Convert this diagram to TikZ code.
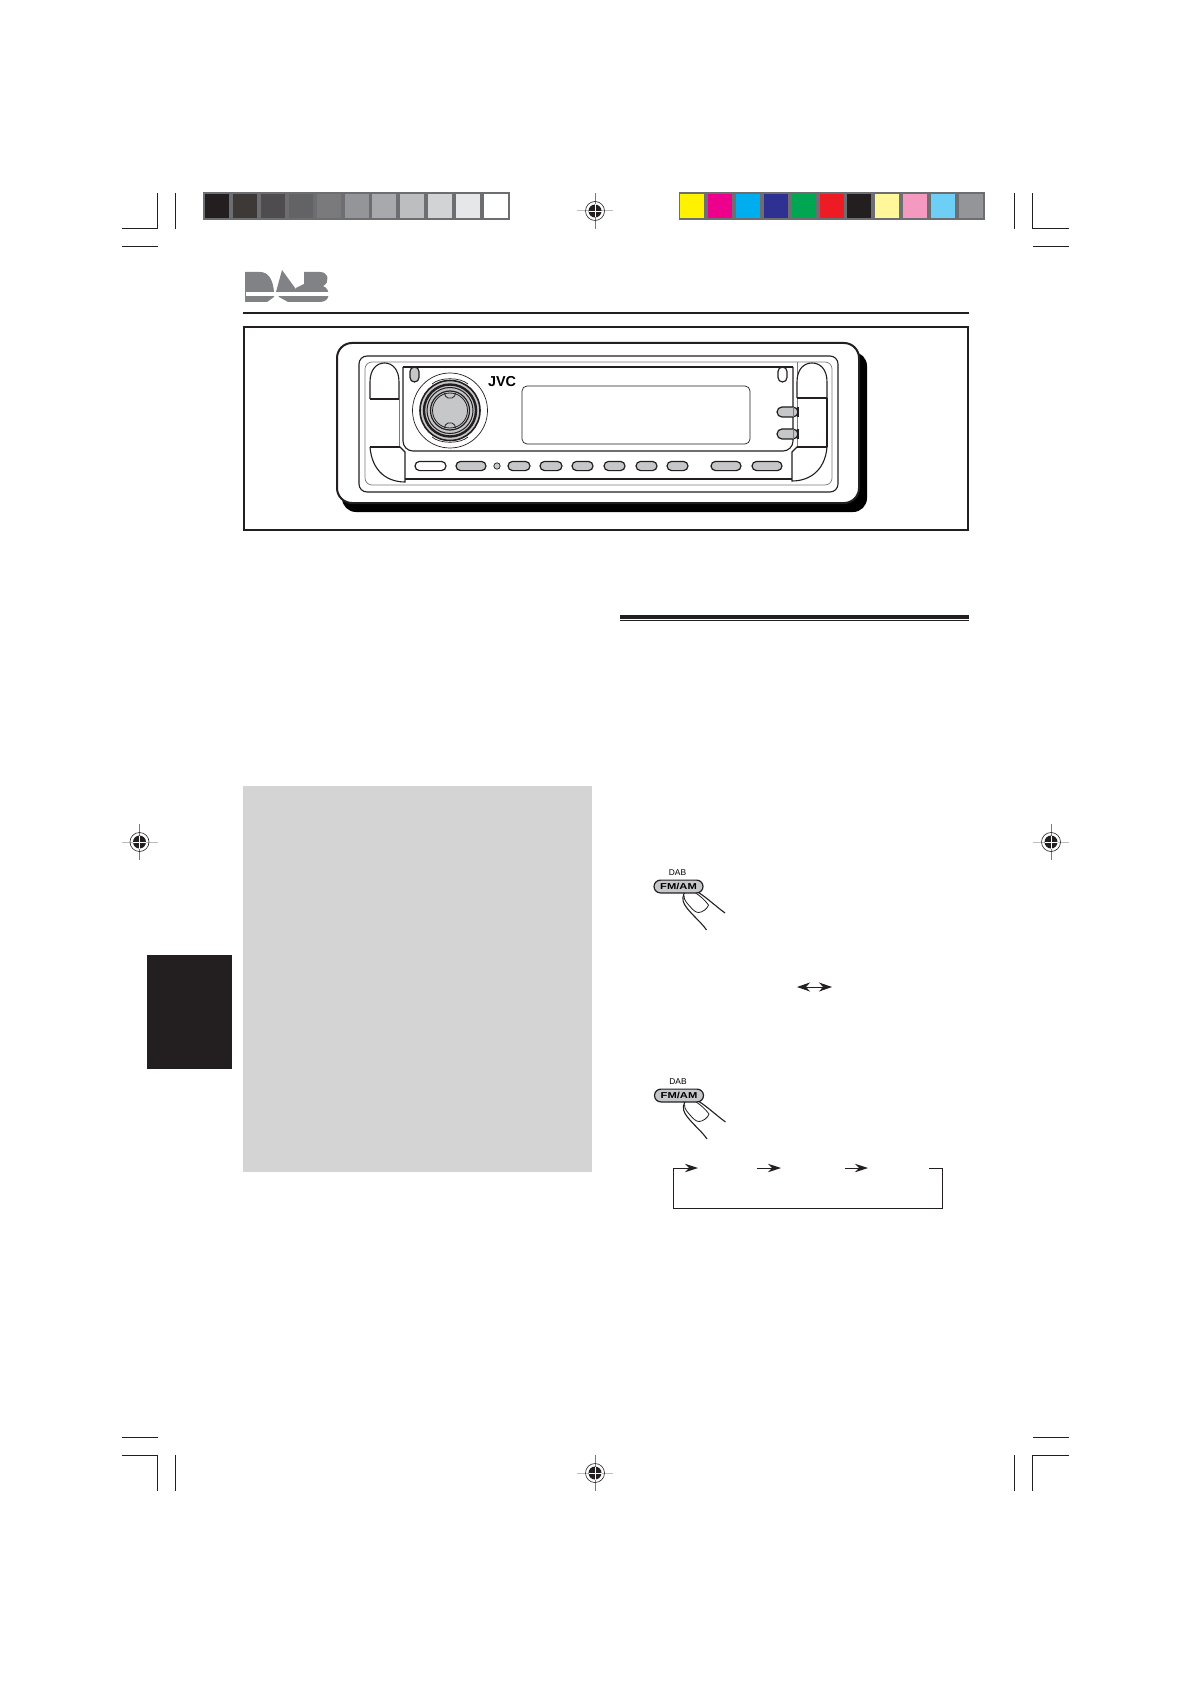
\documentclass[tikz,border=0pt]{standalone}
\usepackage{fontspec}
\setmainfont{Liberation Sans}
\usepackage{xcolor}
\usetikzlibrary{arrows.meta,shapes.misc,calc}
\definecolor{inkk}{HTML}{231F20}
\definecolor{stripk}{HTML}{6D6E71}
\definecolor{logok}{HTML}{808285}
\definecolor{panelk}{HTML}{D4D4D4}
\definecolor{keyk}{HTML}{C6C7C8}
\definecolor{gA}{HTML}{231F20}
\definecolor{gB}{HTML}{3D3937}
\definecolor{gC}{HTML}{4F4C4D}
\definecolor{gD}{HTML}{636264}
\definecolor{gE}{HTML}{7A7A7C}
\definecolor{gF}{HTML}{939598}
\definecolor{gG}{HTML}{A7A9AC}
\definecolor{gH}{HTML}{BCBEC0}
\definecolor{gI}{HTML}{D1D3D4}
\definecolor{gJ}{HTML}{E6E7E8}
\definecolor{gK}{HTML}{FFFFFF}
\definecolor{cA}{HTML}{FFF200}
\definecolor{cB}{HTML}{EC008C}
\definecolor{cC}{HTML}{00AEEF}
\definecolor{cD}{HTML}{2E3192}
\definecolor{cE}{HTML}{00A651}
\definecolor{cF}{HTML}{ED1C24}
\definecolor{cG}{HTML}{231F20}
\definecolor{cH}{HTML}{FFF799}
\definecolor{cI}{HTML}{F49AC1}
\definecolor{cJ}{HTML}{6DCFF6}
\definecolor{cK}{HTML}{939598}
\tikzset{
  crop/.style={draw=inkk, line width=0.5pt},
  thinline/.style={draw=inkk, line width=0.35pt},
  bodyline/.style={draw=inkk, line width=0.55pt},
  flowline/.style={draw=inkk, line width=0.5pt},
  flowtip/.style={-{Stealth[length=6.5pt,width=4.2pt,inset=2pt]}},
  key/.style={rounded rectangle, draw=inkk, line width=0.6pt, fill=keyk,
              inner sep=0pt, minimum height=4.6pt},
  regmark/.pic={
    \draw[gH, line width=0.5pt] (-18,0) -- (18,0);
    \draw[gE, line width=0.5pt] (0,-18) -- (0,18);
    \draw[inkk, line width=0.3pt] (0,0) circle (9.5);
    \fill[inkk] (0,0) circle (6.5);
    \draw[white, line width=0.3pt] (-6.5,0) -- (6.5,0) (0,-6.5) -- (0,6.5);
  },
  fmkey/.pic={
    % finger
    \draw[fill=white, draw=inkk, line width=0.55pt] (46.5,26.5) .. controls (35,18) and (26,9) .. (16.5,4)
      .. controls (11,3) and (7,4) .. (5.5,7) .. controls (3,13) and (5,17) .. (8,21)
      .. controls (15,30) and (23,36) .. (28,43.5);
    \draw[inkk, line width=0.4pt] (5.5,9) .. controls (5,14) and (10,18) .. (11.5,20)
      .. controls (14,23) and (17,26) .. (20,26) .. controls (24,26) and (29,22) .. (30,18.5)
      .. controls (26,13) and (21,9) .. (16.5,6);
    \node[font=\fontsize{4.2}{4}\selectfont] (dab) at (-1,-13.5) {DAB};
    \node[key, minimum width=24.5pt, minimum height=6.4pt,
          font=\fontsize{4.3}{4}\selectfont\bfseries] (fm) at (0,0) {\scalebox{1.3}[1]{FM/AM}};
  },
}
\begin{document}
\begin{tikzpicture}[x=0.5pt, y=-0.5pt]
\useasboundingbox (0,0) rectangle (1190,1684);
% colour bars
\fill[stripk] (203,192) rectangle (510,220);
\fill[stripk] (679,192) rectangle (985,220);
\foreach \col [count=\i from 0] in {gA,gB,gC,gD,gE,gF,gG,gH,gI,gJ,gK}
  \fill[\col] ({205+27.9*\i},194) rectangle +(24,24);
\foreach \col [count=\i from 0] in {cA,cB,cC,cD,cE,cF,cG,cH,cI,cJ,cK}
  \fill[\col] ({680+27.9*\i},194) rectangle +(24,24);
%
% crop marks
\draw[crop] (122,229) -- (157.5,229) -- (157.5,193);
\draw[crop] (175.5,193) -- (175.5,229);
\draw[crop] (122,247) -- (158,247);
\draw[crop] (1069,229) -- (1032.5,229) -- (1032.5,193);
\draw[crop] (1014.5,193) -- (1014.5,229);
\draw[crop] (1033,247) -- (1069,247);
\draw[crop] (122,1437) -- (158,1437);
\draw[crop] (122,1455) -- (157.5,1455) -- (157.5,1491);
\draw[crop] (175.5,1455) -- (175.5,1491);
\draw[crop] (1033,1437) -- (1069,1437);
\draw[crop] (1069,1455) -- (1032.5,1455) -- (1032.5,1491);
\draw[crop] (1014.5,1455) -- (1014.5,1491);
%
\pic at (595,211) {regmark};
\pic at (139.5,842) {regmark};
\pic at (1051,842) {regmark};
\pic at (595,1473) {regmark};
%
% logo
\fill[logok] (245,272) -- (260,272) .. controls (268,272) and (273,279) .. (274,292)
  -- (274,297) -- (267,302) -- (245,302) -- cycle;
\fill[logok] (282,270) -- (298,292) -- (305,302) -- (288,302) -- (279,297) -- (276,292) -- cycle;
\fill[logok] (304,272) -- (320,272) .. controls (329,272) and (330,283) .. (323,286)
  .. controls (331,289) and (331,302) .. (320,302) -- (296,302) -- (296,288) -- (304,284) -- cycle;
\fill[white] (245.5,292) rectangle (329,296.5);
\draw[inkk, line width=1pt] (243,312.7) -- (969,312.7);
%
% front panel
\draw[inkk, line width=1pt] (244,327) rectangle (968,530);
\fill[black, rounded corners=7pt] (342,352) rectangle (867,512);
\draw[draw=inkk, line width=1pt, fill=white, rounded corners=7.5pt] (337,343) rectangle (859,503);
\draw[bodyline, rounded corners=4pt] (359,356) rectangle (838,492);
\draw[gE, line width=0.35pt, rounded corners=3.5pt] (365,362) rectangle (832,485);
\draw[bodyline, rounded corners=5pt] (403,367) -- (403,451) -- (793,451) -- (793,367);
\draw[bodyline, line width=0.7pt] (403,367) -- (793,367);
\draw[gE, line width=0.35pt] (797,362) -- (797,447);
\draw[bodyline] (405,479) -- (792,479);
\draw[gE, line width=0.35pt] (399,399) -- (399,447);
\draw[bodyline] (827,398) -- (827,447);
%
% side tabs
\draw[bodyline, fill=white] (370,399) -- (370,382) .. controls (370,369) and (377,363) .. (384.5,363)
  .. controls (392,363) and (399,369) .. (399,382) -- (399,399);
\draw[inkk, line width=1pt] (370,399) -- (399,399);
\draw[bodyline, fill=white] (797,398) -- (797,382) .. controls (797,369) and (804,363) .. (812,363)
  .. controls (820,363) and (827,369) .. (827,382) -- (827,398);
\draw[inkk, line width=1pt] (797,398) -- (827,398);
\draw[bodyline, fill=white] (370,447) -- (400,447) -- (405,452) -- (405,482) .. controls (388,482) and (372,472) .. (370,447);
\draw[inkk, line width=1pt] (370,447) -- (400,447);
\draw[bodyline, fill=white] (827,447) -- (797,447) -- (792,452) -- (792,481) .. controls (809,481) and (825,471) .. (827,447);
\draw[inkk, line width=1pt] (797,447) -- (827,447);
%
% lamps
\node[key, rotate=90, minimum width=7.5pt, minimum height=4.5pt] (lampl) at (414.5,374.5) {};
\node[key, rotate=90, fill=white, minimum width=7.5pt, minimum height=4.5pt] (lampr) at (782.5,374.5) {};
%
% knob
\draw[thinline] (450,410.5) circle (37.5);
\draw[thinline, fill=white] (432,384) .. controls (440,377) and (460,377) .. (468,384);
\draw[thinline, fill=white] (432,437) .. controls (440,444) and (460,444) .. (468,437);
\draw[inkk, line width=0.8pt, fill=keyk] (450,410.5) circle (30);
\draw[inkk, line width=1.2pt] (450,410.5) circle (26);
\draw[inkk, line width=0.5pt] (450,410.5) circle (23);
\draw[inkk, line width=0.6pt, fill=keyk] (450,410.5) circle (19.5);
\draw[inkk, line width=0.4pt] (450,410.5) circle (17.5);
\draw[inkk, line width=0.4pt, rounded corners=1pt] (444.5,393) -- (446,398) -- (454,398) -- (455.5,393);
\draw[inkk, line width=0.4pt, rounded corners=1pt] (444.5,428) -- (446,423) -- (454,423) -- (455.5,428);
\node[font=\fontsize{7.2}{7}\selectfont\bfseries, inner sep=0pt] (brand) at (502,381.5) {JVC};
%
% display
\draw[thinline, rounded corners=2.5pt] (522,386) rectangle (750,444);
%
% keys
\foreach \nm/\xc/\wid/\col in {ka/430.5/15.5/white, kb/471/15/keyk, kc/519/11/keyk, kd/551/11/keyk,
    ke/582.5/10.5/keyk, kf/614.5/10.5/keyk, kg/646.5/10.5/keyk, kh/677.5/10.5/keyk,
    ki/726/15/keyk, kj/767/15/keyk}
  \node[key, minimum width=\wid pt, fill=\col] (\nm) at (\xc,466) {};
\node[circle, draw=inkk, fill=keyk, line width=0.35pt, inner sep=0pt, minimum size=3.2pt] (dot) at (497,466) {};
\node[key, minimum width=10.5pt, minimum height=5pt] (kr) at (787.5,412) {};
\node[key, minimum width=10.5pt, minimum height=5pt] (ks) at (787.5,434) {};
\draw[gE, line width=0.35pt] (793,407) -- (793,417) (793,429) -- (793,439);
\draw[inkk, line width=0.7pt] (798,407) -- (798,417) (798,429) -- (798,439);
%
% side tab and grey block
\fill[inkk] (147,955) rectangle (232,1069);
\fill[panelk] (243,786) rectangle (592,1172);
%
% double rule
\fill[inkk] (620,615) rectangle (969,618.5);
\draw[inkk, line width=0.5pt] (620,620.7) -- (969,620.7);
%
% key presses
\pic (first) at (678.5,886.5) {fmkey};
\pic (second) at (679,1095.5) {fmkey};
%
\coordinate (dl) at (797,987);
\coordinate (dr) at (832,987);
\draw[flowline, {Stealth[length=6.5pt,width=4.5pt,inset=2pt]}-{Stealth[length=6.5pt,width=4.5pt,inset=2pt]}] (dl) -- (dr);
%
% cycle
\coordinate (ca) at (929,1168);
\coordinate (cb) at (942.5,1168);
\coordinate (cc) at (942.5,1208);
\coordinate (cd) at (673,1208);
\coordinate (ce) at (673,1168);
\coordinate (cf) at (698,1168);
\coordinate (cg) at (757,1168);
\coordinate (ch) at (781,1168);
\coordinate (ci) at (845,1168);
\coordinate (cj) at (868,1168);
\draw[flowline, flowtip] (ca) -- (cb) -- (cc) -- (cd) -- (ce) -- (cf);
\draw[flowline, flowtip] (cg) -- (ch);
\draw[flowline, flowtip] (ci) -- (cj);
%
\end{tikzpicture}
\end{document}
